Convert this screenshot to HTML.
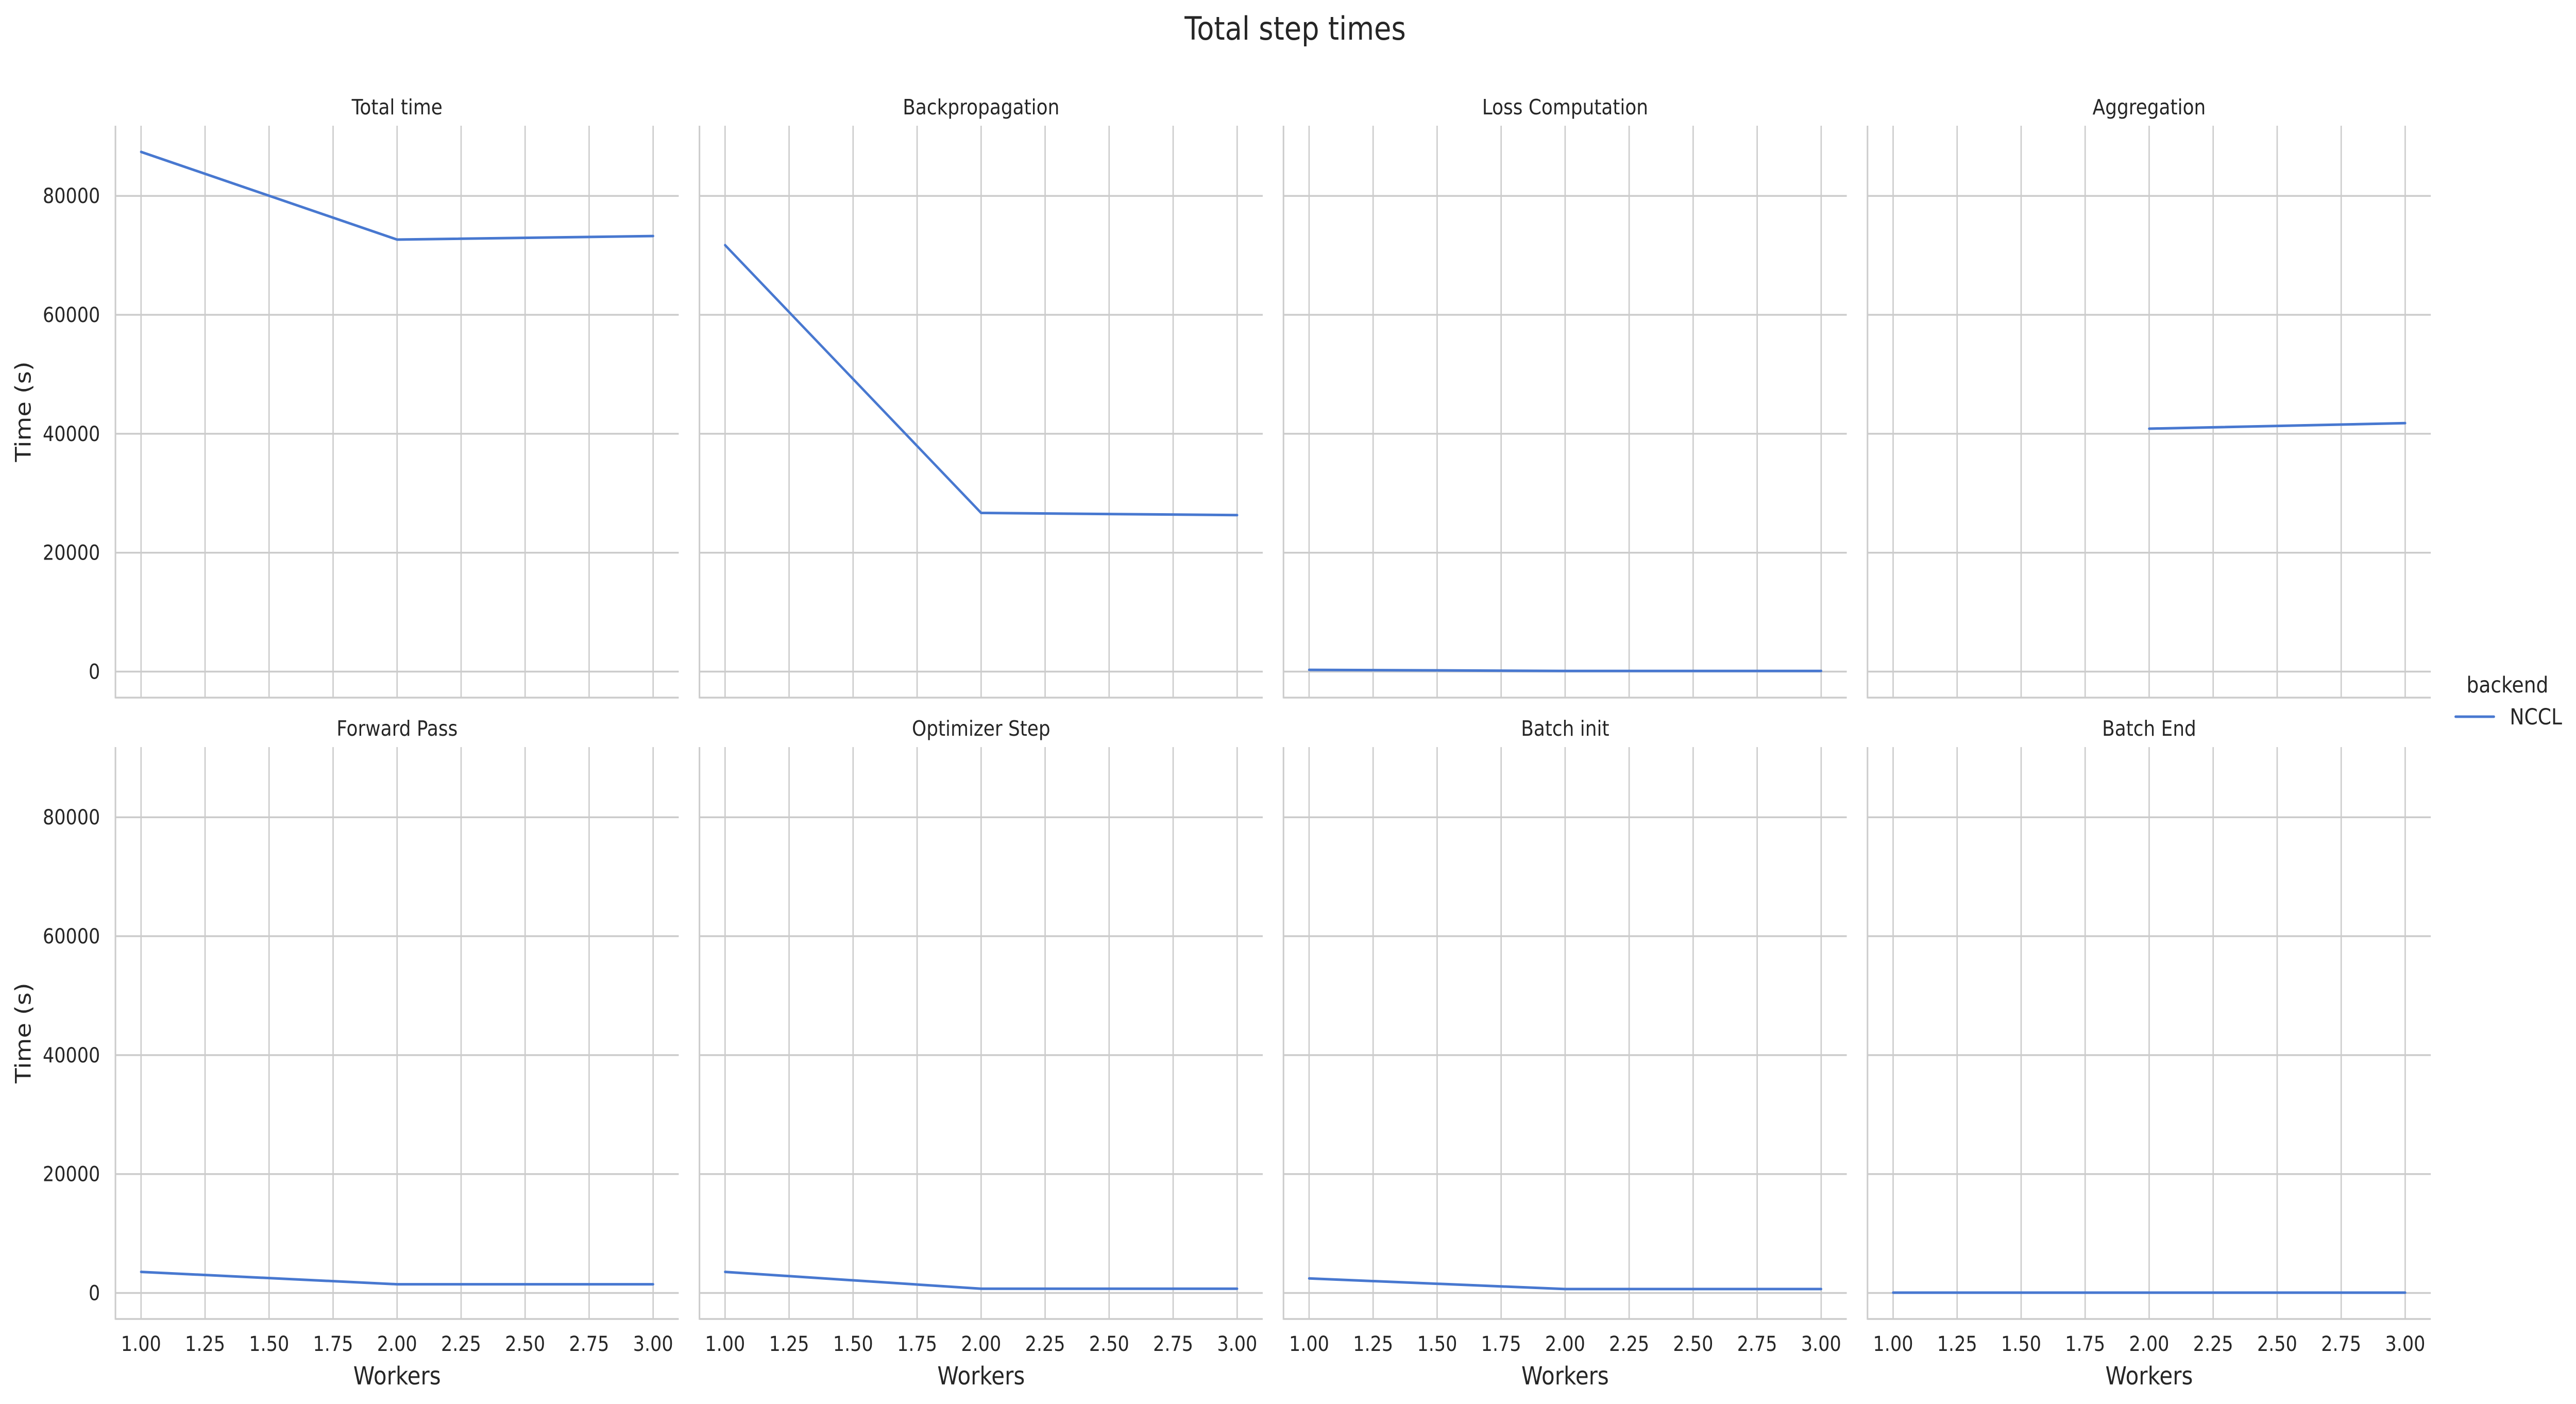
<!DOCTYPE html>
<html><head><meta charset="utf-8"><style>
html,body{margin:0;padding:0;background:#fff;width:100%;height:100%;overflow:hidden;}
svg{display:block;width:100vw;height:100vh;font-family:"DejaVu Sans","Liberation Sans",sans-serif;}
</style></head><body>
<svg id="chart" viewBox="0 0 5712 2725" preserveAspectRatio="none" xmlns="http://www.w3.org/2000/svg">
<rect width="5712" height="2725" fill="#fff"/>
<text x="2872" y="77" font-size="62" text-anchor="middle" fill="#262626">Total step times</text>
<g>
<text x="5560" y="1344" font-size="43" text-anchor="middle" fill="#262626">backend</text>
<line x1="5445" y1="1391" x2="5530" y2="1391" stroke="#4878d0" stroke-width="5" stroke-linecap="round"/>
<text x="5565" y="1406" font-size="43" fill="#262626">NCCL</text>
</g>
<g id="panels"></g>
</svg>
<script>
const titles = ["Total time","Backpropagation","Loss Computation","Aggregation","Forward Pass","Optimizer Step","Batch init","Batch End"];
const workers = [1, 2, 3];
const totalTime = [87400, 72650, 73250];
const backprop = [71720, 26690, 26320];
const lossComp = [300, 120, 120];
const aggregation = [null, 40860, 41780];
const forwardPass = [3550, 1470, 1470];
const optimizerStep = [3550, 720, 720];
const batchInit = [2450, 660, 660];
const batchEnd = [60, 60, 60];
const xTicks = [1.00, 1.25, 1.50, 1.75, 2.00, 2.25, 2.50, 2.75, 3.00];
const yTicks = [0, 20000, 40000, 60000, 80000];
const series = [totalTime, backprop, lossComp, aggregation, forwardPass, optimizerStep, batchInit, batchEnd];

const NS = "http://www.w3.org/2000/svg";
const root = document.getElementById("panels");
const panelLefts = [256, 1551, 2846, 4141];
const panelW = 1249;
const rowTops = [244, 1450];
const panelH = 1110;
const xMin = 0.9, xMax = 3.1, yMin = -4370, yMax = 91800;
function el(tag, attrs, parent){const e=document.createElementNS(NS,tag);for(const k in attrs)e.setAttribute(k,attrs[k]);parent.appendChild(e);return e;}

for (let i = 0; i < 8; i++) {
  const col = i % 4, row = Math.floor(i / 4);
  const L = panelLefts[col], T = rowTops[row], B = T + panelH, R = L + panelW;
  const sx = v => L + (v - xMin) / (xMax - xMin) * panelW;
  const sy = v => B - (v - yMin) / (yMax - yMin) * panelH;
  const g = el("g", {}, root);
  
  
  xTicks.forEach(t => {
    const ln = el("line", {x1: sx(t), x2: sx(t), y1: T, y2: B, stroke: "#cccccc", "stroke-width": 3}, g);
    
    
    if (row === 1) {
      const tx = el("text", {x: sx(t), y: B + 62, "font-size": 40, "text-anchor": "middle", fill: "#262626"}, g);
      tx.textContent = t.toFixed(2);
      
      
    }
  });
  yTicks.forEach(t => {
    const ln = el("line", {x1: L, x2: R, y1: sy(t), y2: sy(t), stroke: "#cccccc", "stroke-width": 3.5}, g);
    
    
    if (col === 0) {
      const tx = el("text", {x: 222, y: sy(t) + 14, "font-size": 40, "text-anchor": "end", fill: "#262626"}, g);
      tx.textContent = String(t);
      
      
    }
  });
  const sp1 = el("line", {x1: L, x2: L, y1: T, y2: B + 1.5, stroke: "#cccccc", "stroke-width": 3.5}, g);
  
  
  const sp2 = el("line", {x1: L, x2: R, y1: B, y2: B, stroke: "#cccccc", "stroke-width": 3.5}, g);
  
  
  const tt = el("text", {x: (L + R) / 2, y: T - 22, "font-size": 41, "text-anchor": "middle", fill: "#262626"}, g);
  tt.textContent = titles[i];
  
  
  let d = "", pen = false;
  series[i].forEach((v, j) => {
    if (v === null) { pen = false; return; }
    d += (pen ? "L" : "M") + sx(workers[j]).toFixed(1) + "," + sy(v).toFixed(1);
    pen = true;
  });
  const p = el("path", {d: d, fill: "none", stroke: "#4878d0", "stroke-width": 5, "stroke-linecap": "round", "stroke-linejoin": "round"}, g);
  
  
  if (row === 1) {
    const xl = el("text", {x: (L + R) / 2, y: B + 127, "font-size": 48, "text-anchor": "middle", fill: "#262626"}, g);
    xl.textContent = "Workers";
    
    
  }
  if (col === 0) {
    const cy = (T + B) / 2;
    const yl = el("text", {x: 68, y: cy, "font-size": 48, "text-anchor": "middle", fill: "#262626", transform: "rotate(-90 68 " + cy + ")"}, g);
    yl.textContent = "Time (s)";
    
    
  }
}
</script>
</body></html>
